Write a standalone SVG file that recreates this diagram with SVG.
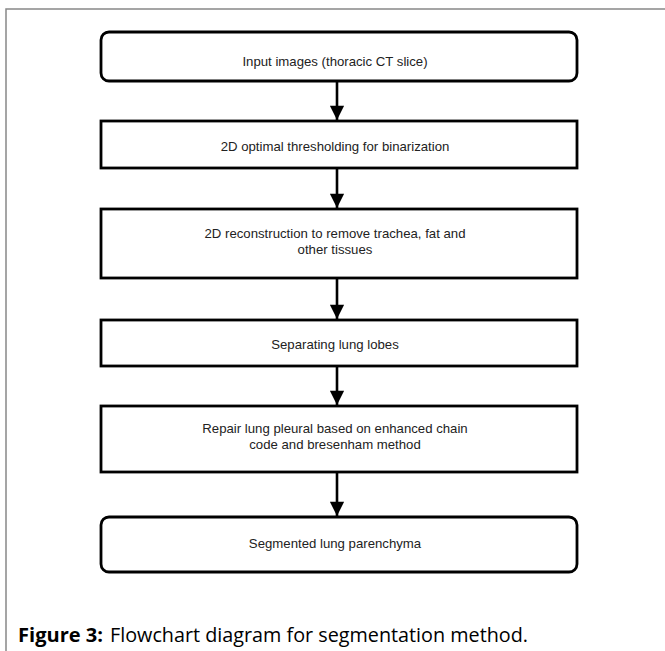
<svg xmlns="http://www.w3.org/2000/svg" width="665" height="651" viewBox="0 0 665 651">
<defs>
<style>
.box{fill:#fff;stroke:#000;stroke-width:2.8}
.lbl{font-family:"Liberation Sans",Arial,sans-serif;font-size:13.2px;fill:#222;text-anchor:middle}
.con{stroke:#000;stroke-width:2.6;fill:none}
.cap{font-family:"Open Sans","Liberation Sans",sans-serif;font-size:20px;fill:#000}
</style>
<marker id="ah" viewBox="0 0 10 10" refX="10" refY="5" markerWidth="6" markerHeight="5.5" markerUnits="strokeWidth" orient="auto">
<path d="M0,0 L10,5 L0,10 z" fill="#000"/>
</marker>
</defs>
<rect width="665" height="651" fill="#fff"/>
<path d="M6,651 V9 H665" fill="none" stroke="#888" stroke-width="1.5"/>
<g id="n1"><rect class="box" x="101" y="32" width="476" height="49" rx="8"/><text class="lbl" x="335" y="66">Input images (thoracic CT slice)</text></g>
<g id="n2"><rect class="box" x="101" y="121" width="476" height="47"/><text class="lbl" x="335" y="151">2D optimal thresholding for binarization</text></g>
<g id="n3"><rect class="box" x="101" y="209" width="476" height="69"/><text class="lbl" x="335" y="238">2D reconstruction to remove trachea, fat and</text><text class="lbl" x="335" y="254">other tissues</text></g>
<g id="n4"><rect class="box" x="101" y="320" width="476" height="46"/><text class="lbl" x="335" y="349">Separating lung lobes</text></g>
<g id="n5"><rect class="box" x="101" y="406" width="476" height="66"/><text class="lbl" x="335" y="433">Repair lung pleural based on enhanced chain</text><text class="lbl" x="335" y="449">code and bresenham method</text></g>
<g id="n6"><rect class="box" x="101" y="517" width="476" height="55" rx="8"/><text class="lbl" x="335" y="548">Segmented lung parenchyma</text></g>
<g id="connectors">
<line class="con" x1="337" y1="82" x2="337" y2="120" marker-end="url(#ah)"/>
<line class="con" x1="337" y1="169" x2="337" y2="208" marker-end="url(#ah)"/>
<line class="con" x1="337" y1="279" x2="337" y2="319" marker-end="url(#ah)"/>
<line class="con" x1="337" y1="367" x2="337" y2="405" marker-end="url(#ah)"/>
<line class="con" x1="337" y1="473" x2="337" y2="516" marker-end="url(#ah)"/>
</g>
<text class="cap" x="18" y="642" font-weight="bold" textLength="85" lengthAdjust="spacingAndGlyphs">Figure 3:</text>
<text class="cap" x="110" y="642" textLength="418" lengthAdjust="spacingAndGlyphs">Flowchart diagram for segmentation method.</text>
</svg>
